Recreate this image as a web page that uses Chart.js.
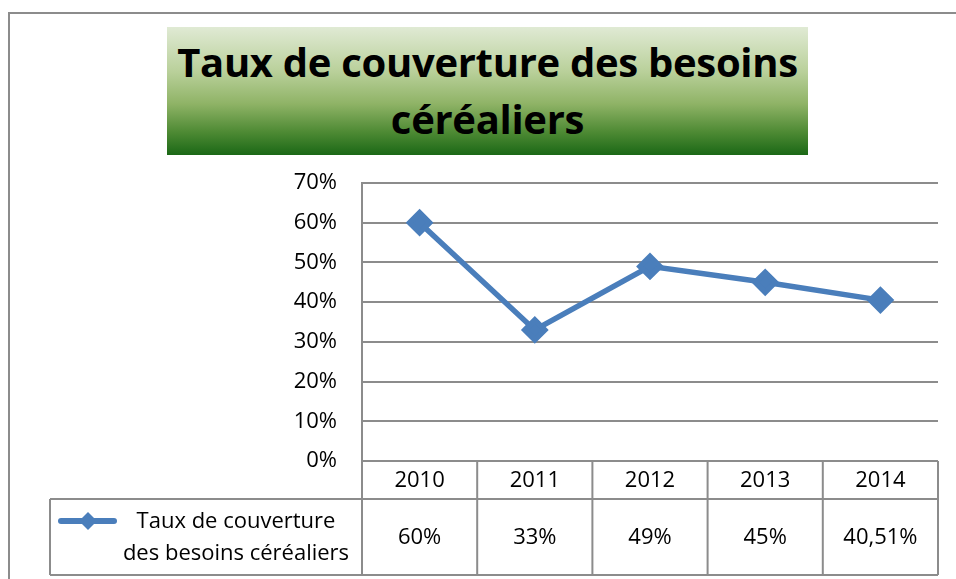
<!DOCTYPE html>
<html>
<head>
<meta charset="utf-8">
<script src="https://cdn.jsdelivr.net/npm/chart.js@4.4.1/dist/chart.umd.min.js"></script>
<style>
  html, body { margin: 0; padding: 0; background: #fff; }
  #wrap { position: relative; width: 956px; height: 579px; overflow: hidden; }
  #frame {
    position: absolute; left: 8px; top: 12px; width: 1000px; height: 700px;
    border: 2px solid #8c8c8c; box-sizing: border-box;
  }
  #title {
    position: absolute; left: 167px; top: 27px; width: 641px; height: 128px;
    background: linear-gradient(to bottom, #e0ead4 0%, #b9d09a 35%, #8fb366 60%, #4e8a34 82%, #1b6816 100%);
    font-family: "Open Sans", sans-serif; font-weight: bold; font-size: 40px;
    line-height: 57px; text-align: center; color: #000; letter-spacing: -0.3px;
    padding-top: 6px; box-sizing: border-box; white-space: nowrap;
  }
  canvas { position: absolute; left: 0; top: 0; }
</style>
</head>
<body>
<div id="wrap">
  <div id="frame"></div>
  <div id="title">Taux de couverture des besoins<br>céréaliers</div>
  <canvas id="chart" width="956" height="579"></canvas>
</div>
<script>
// données
const years = ['2010', '2011', '2012', '2013', '2014'];
const values = [0.60, 0.33, 0.49, 0.45, 0.4051];
const valueLabels = ['60%', '33%', '49%', '45%', '40,51%'];
const seriesName = ['Taux de couverture', 'des besoins céréaliers'];

const blue = '#4a7ebb';
const gridGray = '#8c8c8c';
const font = '"Open Sans", sans-serif';

// tableau de données sous le graphique
const dataTablePlugin = {
  id: 'dataTable',
  afterDraw(chart) {
    const { ctx, chartArea, scales } = chart;
    const x = scales.x;
    const step = x.getPixelForValue(1) - x.getPixelForValue(0);
    const top = chartArea.bottom;
    const mid = top + 38;
    const bottom = top + 114;
    const legendLeft = 50;

    ctx.save();
    ctx.strokeStyle = gridGray;
    ctx.lineWidth = 2;

    // lignes horizontales
    ctx.beginPath();
    ctx.moveTo(chartArea.left, top); ctx.lineTo(chartArea.right, top);
    ctx.moveTo(legendLeft, mid); ctx.lineTo(chartArea.right, mid);
    ctx.moveTo(legendLeft, bottom); ctx.lineTo(chartArea.right, bottom);
    // verticales
    ctx.moveTo(legendLeft, mid); ctx.lineTo(legendLeft, bottom);
    ctx.moveTo(chartArea.left, top); ctx.lineTo(chartArea.left, bottom);
    years.forEach((y, i) => {
      const px = x.getPixelForValue(i) + step / 2;
      ctx.moveTo(px, top); ctx.lineTo(px, bottom);
    });
    ctx.stroke();

    // textes
    ctx.fillStyle = '#000';
    ctx.font = '22px ' + font;
    ctx.textAlign = 'center';
    ctx.textBaseline = 'middle';
    years.forEach((y, i) => {
      const px = x.getPixelForValue(i);
      ctx.fillText(y, px, (top + mid) / 2 + 1);
      ctx.fillText(valueLabels[i], px, (mid + bottom) / 2 + 1);
    });

    // légende
    ctx.fillText(seriesName[0], 236, mid + 23);
    ctx.fillText(seriesName[1], 236, mid + 55);

    ctx.strokeStyle = blue;
    ctx.lineWidth = 6;
    ctx.lineCap = 'round';
    ctx.beginPath();
    ctx.moveTo(61, mid + 22); ctx.lineTo(114, mid + 22);
    ctx.stroke();
    ctx.fillStyle = blue;
    ctx.beginPath();
    ctx.moveTo(88, mid + 13); ctx.lineTo(97, mid + 22);
    ctx.lineTo(88, mid + 31); ctx.lineTo(79, mid + 22);
    ctx.closePath();
    ctx.fill();
    ctx.restore();
  },
};

new Chart(document.getElementById('chart'), {
  type: 'line',
  data: {
    labels: years,
    datasets: [
      {
        label: seriesName.join(' '),
        data: values,
        borderColor: blue,
        backgroundColor: blue,
        borderWidth: 5.5,
        pointStyle: 'rectRot',
        pointRadius: 10,
        pointHoverRadius: 10,
        tension: 0,
      },
    ],
  },
  options: {
    responsive: false,
    animation: false,
    layout: { padding: { left: 0, top: 183, right: 18, bottom: 118 } },
    scales: {
      x: {
        display: false,
        offset: true,
      },
      y: {
        min: 0,
        max: 0.7,
        afterFit: (scale) => { scale.width = 362; },
        border: { display: true, color: gridGray, width: 2 },
        grid: { color: gridGray, lineWidth: 2, drawTicks: false },
        ticks: {
          stepSize: 0.1,
          padding: 25,
          color: '#000',
          font: { family: font, size: 22 },
          callback: (v) => Math.round(v * 100) + '%',
        },
      },
    },
    plugins: {
      legend: { display: false },
      tooltip: { enabled: false },
    },
  },
  plugins: [dataTablePlugin],
});
</script>
</body>
</html>
